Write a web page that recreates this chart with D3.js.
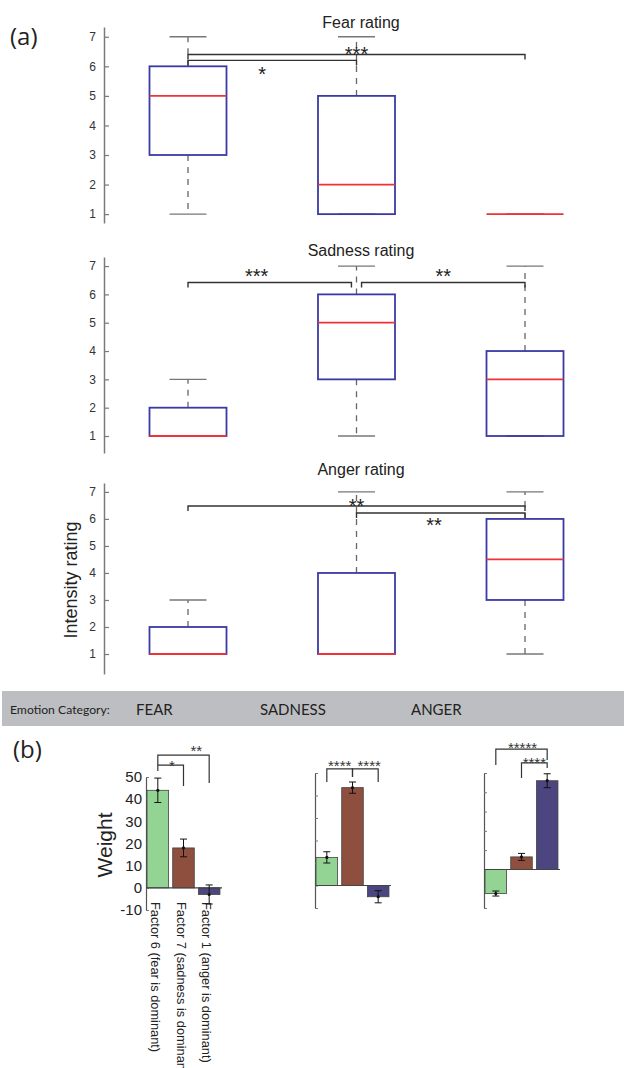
<!DOCTYPE html>
<html>
<head>
<meta charset="utf-8">
<script src="https://cdn.jsdelivr.net/npm/d3@7"></script>
<style>
  body { margin: 0; background: #fff; }
  text { font-family: "Liberation Sans", Arial, sans-serif; }
</style>
</head>
<body>
<svg id="chart" width="624" height="1068"></svg>
<script>
// ---- data (a): box plots, [min, q1, median, q3, max] ----
const emotions = ['FEAR', 'SADNESS', 'ANGER'];
const ratingTitles = ['Fear rating', 'Sadness rating', 'Anger rating'];
const ratingTicks = [1, 2, 3, 4, 5, 6, 7];
const fearRating    = [[1, 3, 5, 6, 7], [1, 1, 2, 5, 7], [1, 1, 1, 1, 1]];
const sadnessRating = [[1, 1, 1, 2, 3], [1, 3, 5, 6, 7], [1, 1, 3, 4, 7]];
const angerRating   = [[1, 1, 1, 2, 3], [1, 1, 1, 4, 7], [1, 3, 4.5, 6, 7]];
// significance brackets: group a to group b at rating y, label at fraction t / rating ly
const fearSig    = [{a: 0, b: 1, y: 6.2, label: '*', t: 0.44, ly: 5.88},
                    {a: 0, b: 2, y: 6.4, label: '***', t: 0.5, ly: 6.56}];
const sadnessSig = [{a: 0, b: 0.97, y: 6.42, label: '***', t: 0.42, ly: 6.8},
                    {a: 1.03, b: 2, y: 6.42, label: '**', t: 0.5, ly: 6.8}];
const angerSig   = [{a: 0, b: 2, y: 6.48, label: '**', t: 0.5, ly: 6.63},
                    {a: 1, b: 2, y: 6.22, label: '**', t: 0.46, ly: 5.93}];

// ---- data (b): factor weights ----
const factors = ['Factor 6 (fear is dominant)', 'Factor 7 (sadness is dominant)', 'Factor 1 (anger is dominant)'];
const weightTicks = [-10, 0, 10, 20, 30, 40, 50];
const fearWeight = [44, 18, -3],      fearWeightErr = [5.5, 4, 4.3];
const sadnessWeight = [12.5, 43.5, -5], sadnessWeightErr = [2.5, 2.5, 2.7];
const angerWeight = [-12.5, 6.5, 46], angerWeightErr = [1.3, 1.8, 3.6];
// brackets: bar a to bar b at weight y, tick ends down to ya / yb, label at fraction t / weight ly
const fearWSig = [{a: 0, b: 1, y: 55.4, ya: 52.7, yb: 45.9, label: '*', t: 0.55, ly: 56.8},
                  {a: 0, b: 2, y: 59.9, ya: 55.4, yb: 47.3, label: '**', t: 0.75, ly: 63.5}];
const sadnessWSig = [{a: 0, b: 1, y: 51.8, ya: 46, yb: 48.2, label: '****', t: 0.5, ly: 54.9},
                     {a: 1, b: 2, y: 51.8, ya: 48.2, yb: 46, label: '****', t: 0.65, ly: 54.9}];
const angerWSig = [{a: 0, b: 2, y: 62.4, ya: 54.1, yb: 56.7, label: '*****', t: 0.52, ly: 65},
                   {a: 1, b: 2, y: 55.2, ya: 47.4, yb: 52.6, label: '****', t: 0.5, ly: 57.2}];

const svg = d3.select('#chart');

// ---------------- panel (a) ----------------
const boxPanels = [
  {title: ratingTitles[0], boxes: fearRating, sig: fearSig, lo: 0.7, hi: 7.33, range: [223, 27], titleY: 28},
  {title: ratingTitles[1], boxes: sadnessRating, sig: sadnessSig, lo: 0.4, hi: 7.32, range: [453, 257], titleY: 256},
  {title: ratingTitles[2], boxes: angerRating, sig: angerSig, lo: 0.26, hi: 7.33, range: [674, 483], titleY: 475}
];

const xBox = d3.scaleLinear().domain([0, 2]).range([188, 525]);
const boxHalf = 38.5, capHalf = 18.5;

svg.append('text').attr('x', 10).attr('y', 45)
  .style('font-family', '"Open Sans", sans-serif').style('font-size', '24px').attr('fill', '#222')
  .text('(a)');

boxPanels.forEach(function (p) {
  var y = d3.scaleLinear().domain([p.lo, p.hi]).range(p.range);
  var g = svg.append('g');

  g.append('text')
    .attr('x', 361).attr('y', p.titleY)
    .attr('text-anchor', 'middle')
    .style('font-size', '16px').attr('fill', '#222')
    .text(p.title);

  var ax = g.append('g')
    .attr('transform', 'translate(104,0)')
    .call(d3.axisLeft(y).tickValues(ratingTicks).tickSize(-5).tickSizeOuter(0).tickPadding(8)
      .tickFormat(function (d) { return String(d); }));
  ax.select('.domain').attr('stroke', '#7a7a7a').attr('stroke-width', 1.5);
  ax.selectAll('.tick line').attr('stroke', '#7a7a7a').attr('stroke-width', 1.2);
  ax.selectAll('.tick text').style('font-size', '12px').attr('fill', '#333')
    .style('font-family', '"Liberation Sans", Arial, sans-serif');

  p.boxes.forEach(function (b, i) {
    var cx = xBox(i);
    // whiskers
    if (b[4] > b[3]) {
      g.append('line').attr('x1', cx).attr('x2', cx).attr('y1', y(b[3])).attr('y2', y(b[4]))
        .attr('stroke', '#666').attr('stroke-width', 1.3).attr('stroke-dasharray', '6,6');
    }
    if (b[1] > b[0]) {
      g.append('line').attr('x1', cx).attr('x2', cx).attr('y1', y(b[1])).attr('y2', y(b[0]))
        .attr('stroke', '#666').attr('stroke-width', 1.3).attr('stroke-dasharray', '6,6');
    }
    [b[0], b[4]].forEach(function (v) {
      g.append('line').attr('x1', cx - capHalf).attr('x2', cx + capHalf).attr('y1', y(v)).attr('y2', y(v))
        .attr('stroke', '#777').attr('stroke-width', 1.3);
    });
    // box
    g.append('rect')
      .attr('x', cx - boxHalf).attr('width', boxHalf * 2)
      .attr('y', y(b[3])).attr('height', y(b[1]) - y(b[3]))
      .attr('fill', 'none').attr('stroke', '#3a3aa6').attr('stroke-width', 1.8);
    // median
    g.append('line').attr('x1', cx - boxHalf).attr('x2', cx + boxHalf)
      .attr('y1', y(b[2])).attr('y2', y(b[2]))
      .attr('stroke', '#ee3338').attr('stroke-width', 1.8);
  });

  p.sig.forEach(function (s) {
    var x1 = xBox(s.a), x2 = xBox(s.b), yy = y(s.y);
    g.append('path')
      .attr('d', 'M' + x1 + ',' + (yy + 5) + 'V' + yy + 'H' + x2 + 'V' + (yy + 5))
      .attr('fill', 'none').attr('stroke', '#333').attr('stroke-width', 1.4);
    g.append('text')
      .attr('x', x1 + (x2 - x1) * s.t).attr('y', y(s.ly) + 11.5)
      .attr('text-anchor', 'middle').style('font-size', '20px').attr('fill', '#222')
      .text(s.label);
  });
});

svg.append('text')
  .attr('transform', 'translate(77,580) rotate(-90)')
  .attr('text-anchor', 'middle')
  .style('font-size', '18px').attr('fill', '#222')
  .text('Intensity rating');

// ---------------- category band ----------------
svg.append('rect').attr('x', 2).attr('y', 691).attr('width', 622).attr('height', 35).attr('fill', '#bdbec1');
svg.append('text').attr('x', 10).attr('y', 714)
  .style('font-family', 'Lato, sans-serif').style('font-size', '12.2px').attr('fill', '#222')
  .text('Emotion Category:');
var bandX = [136, 260, 411];
emotions.forEach(function (e, i) {
  svg.append('text').attr('x', bandX[i]).attr('y', 715)
    .style('font-family', 'Lato, sans-serif').style('font-size', '15px').attr('fill', '#222')
    .text(e);
});

// ---------------- panel (b) ----------------
svg.append('text').attr('x', 13).attr('y', 758)
  .style('font-family', '"Open Sans", sans-serif').style('font-size', '24px').attr('fill', '#222')
  .text('(b)');

const barColors = ['#93d393', '#8e4f3f', '#4b4580'];
const barPanels = [
  {axisX: 146, values: fearWeight, err: fearWeightErr, sig: fearWSig, domain: [-10, 50], range: [910, 777], labels: true},
  {axisX: 315, values: sadnessWeight, err: sadnessWeightErr, sig: sadnessWSig, domain: [-10, 50], range: [908, 773], labels: false},
  {axisX: 484, values: angerWeight, err: angerWeightErr, sig: angerWSig, domain: [-20, 50], range: [908, 773], labels: false}
];

barPanels.forEach(function (p) {
  var y = d3.scaleLinear().domain(p.domain).range(p.range);
  var x = d3.scaleBand().domain(factors).range([p.axisX, p.axisX + 75]).paddingInner(0.16).paddingOuter(0.04);
  var g = svg.append('g');

  var ticks = p.domain[0] < -10 ? [-20, -10, 0, 10, 20, 30, 40, 50] : weightTicks;
  var ax = g.append('g')
    .attr('transform', 'translate(' + p.axisX + ',0)')
    .call(d3.axisLeft(y).tickValues(ticks).tickSize(-3).tickSizeOuter(0).tickPadding(4)
      .tickFormat(p.labels ? function (d) { return String(d); } : function () { return ''; }));
  ax.select('.domain').attr('stroke', '#555').attr('stroke-width', 1.2);
  ax.selectAll('.tick line').attr('stroke', '#777');
  ax.selectAll('.tick text').style('font-size', '15px').attr('fill', '#222')
    .style('font-family', '"Liberation Sans", Arial, sans-serif');

  g.selectAll('rect.bar')
    .data(p.values)
    .enter()
    .append('rect')
    .attr('class', 'bar')
    .attr('x', function (d, i) { return x(factors[i]); })
    .attr('width', x.bandwidth())
    .attr('y', function (d) { return y(Math.max(0, d)); })
    .attr('height', function (d) { return Math.abs(y(d) - y(0)); })
    .attr('fill', function (d, i) { return barColors[i]; })
    .attr('stroke', '#444').attr('stroke-width', 0.8);

  g.append('line').attr('x1', p.axisX).attr('x2', p.axisX + 76).attr('y1', y(0)).attr('y2', y(0))
    .attr('stroke', '#444').attr('stroke-width', 1.1);

  p.values.forEach(function (d, i) {
    var cx = x(factors[i]) + x.bandwidth() / 2;
    var e = p.err[i];
    g.append('path')
      .attr('d', 'M' + (cx - 3.5) + ',' + y(d + e) + 'H' + (cx + 3.5) + 'M' + cx + ',' + y(d + e) + 'V' + y(d - e) +
        'M' + (cx - 3.5) + ',' + y(d - e) + 'H' + (cx + 3.5))
      .attr('fill', 'none').attr('stroke', '#111').attr('stroke-width', 1);
    g.append('circle').attr('cx', cx).attr('cy', y(d)).attr('r', 1.6).attr('fill', '#111');
  });

  p.sig.forEach(function (s) {
    var x1 = x(factors[s.a]) + x.bandwidth() / 2;
    var x2 = x(factors[s.b]) + x.bandwidth() / 2;
    g.append('path')
      .attr('d', 'M' + x1 + ',' + y(s.ya) + 'V' + y(s.y) + 'H' + x2 + 'V' + y(s.yb))
      .attr('fill', 'none').attr('stroke', '#333').attr('stroke-width', 1.2);
    g.append('text')
      .attr('x', x1 + (x2 - x1) * s.t).attr('y', y(s.ly) + 8.7)
      .attr('text-anchor', 'middle').style('font-size', '15px').attr('fill', '#333')
      .text(s.label);
  });

  if (p.labels) {
    factors.forEach(function (f, i) {
      var cx = x(f) + x.bandwidth() / 2;
      g.append('text')
        .attr('transform', 'translate(' + (cx - 7) + ',902) rotate(90)')
        .style('font-size', '12.8px').attr('fill', '#222')
        .text(f);
    });
  }
});

svg.append('text')
  .attr('transform', 'translate(112,845) rotate(-90)')
  .attr('text-anchor', 'middle')
  .style('font-size', '21px').attr('fill', '#222')
  .text('Weight');
</script>
</body>
</html>
